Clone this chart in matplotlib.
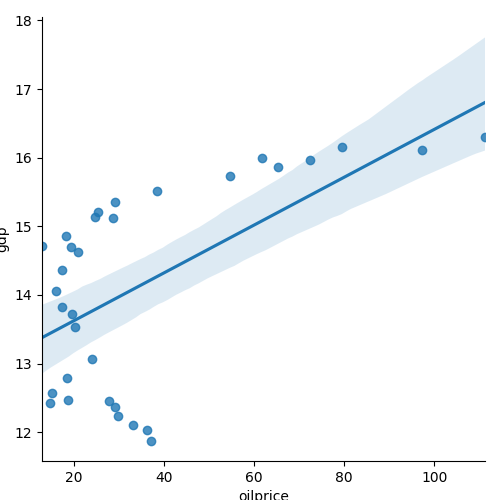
import matplotlib
matplotlib.use("Agg")
import matplotlib.pyplot as plt
import seaborn as sns
import pandas as pd

oilprice = [12.9, 14.7, 15.1, 16.0, 17.3, 17.3, 18.2, 18.4, 18.7, 19.3, 19.6, 20.2, 20.9,
            24.0, 24.7, 25.3, 27.8, 28.7, 29.1, 29.1, 29.8, 33.1, 36.2, 37.1, 38.4,
            54.7, 61.8, 65.3, 72.4, 79.6, 97.3, 111.3]
gdp = [14.71, 12.43, 12.57, 14.06, 14.36, 13.82, 14.86, 12.79, 12.47, 14.70, 13.72, 13.53, 14.62,
       13.07, 15.13, 15.21, 12.45, 15.12, 15.35, 12.36, 12.23, 12.11, 12.03, 11.87, 15.52,
       15.74, 15.99, 15.87, 15.96, 16.15, 16.11, 16.30]

df = pd.DataFrame({"oilprice": oilprice, "gdp": gdp})
fig = plt.figure(figsize=(5, 5), dpi=100)
ax = fig.add_axes([42/500, 39/500, 443/500, 444/500])
sns.regplot(data=df, x="oilprice", y="gdp", ax=ax, seed=0)
ax.set_xlim(min(oilprice), max(oilprice))
ax.set_ylim(11.58, 18.05)
sns.despine(ax=ax)
fig.savefig("out.png", dpi=100)
